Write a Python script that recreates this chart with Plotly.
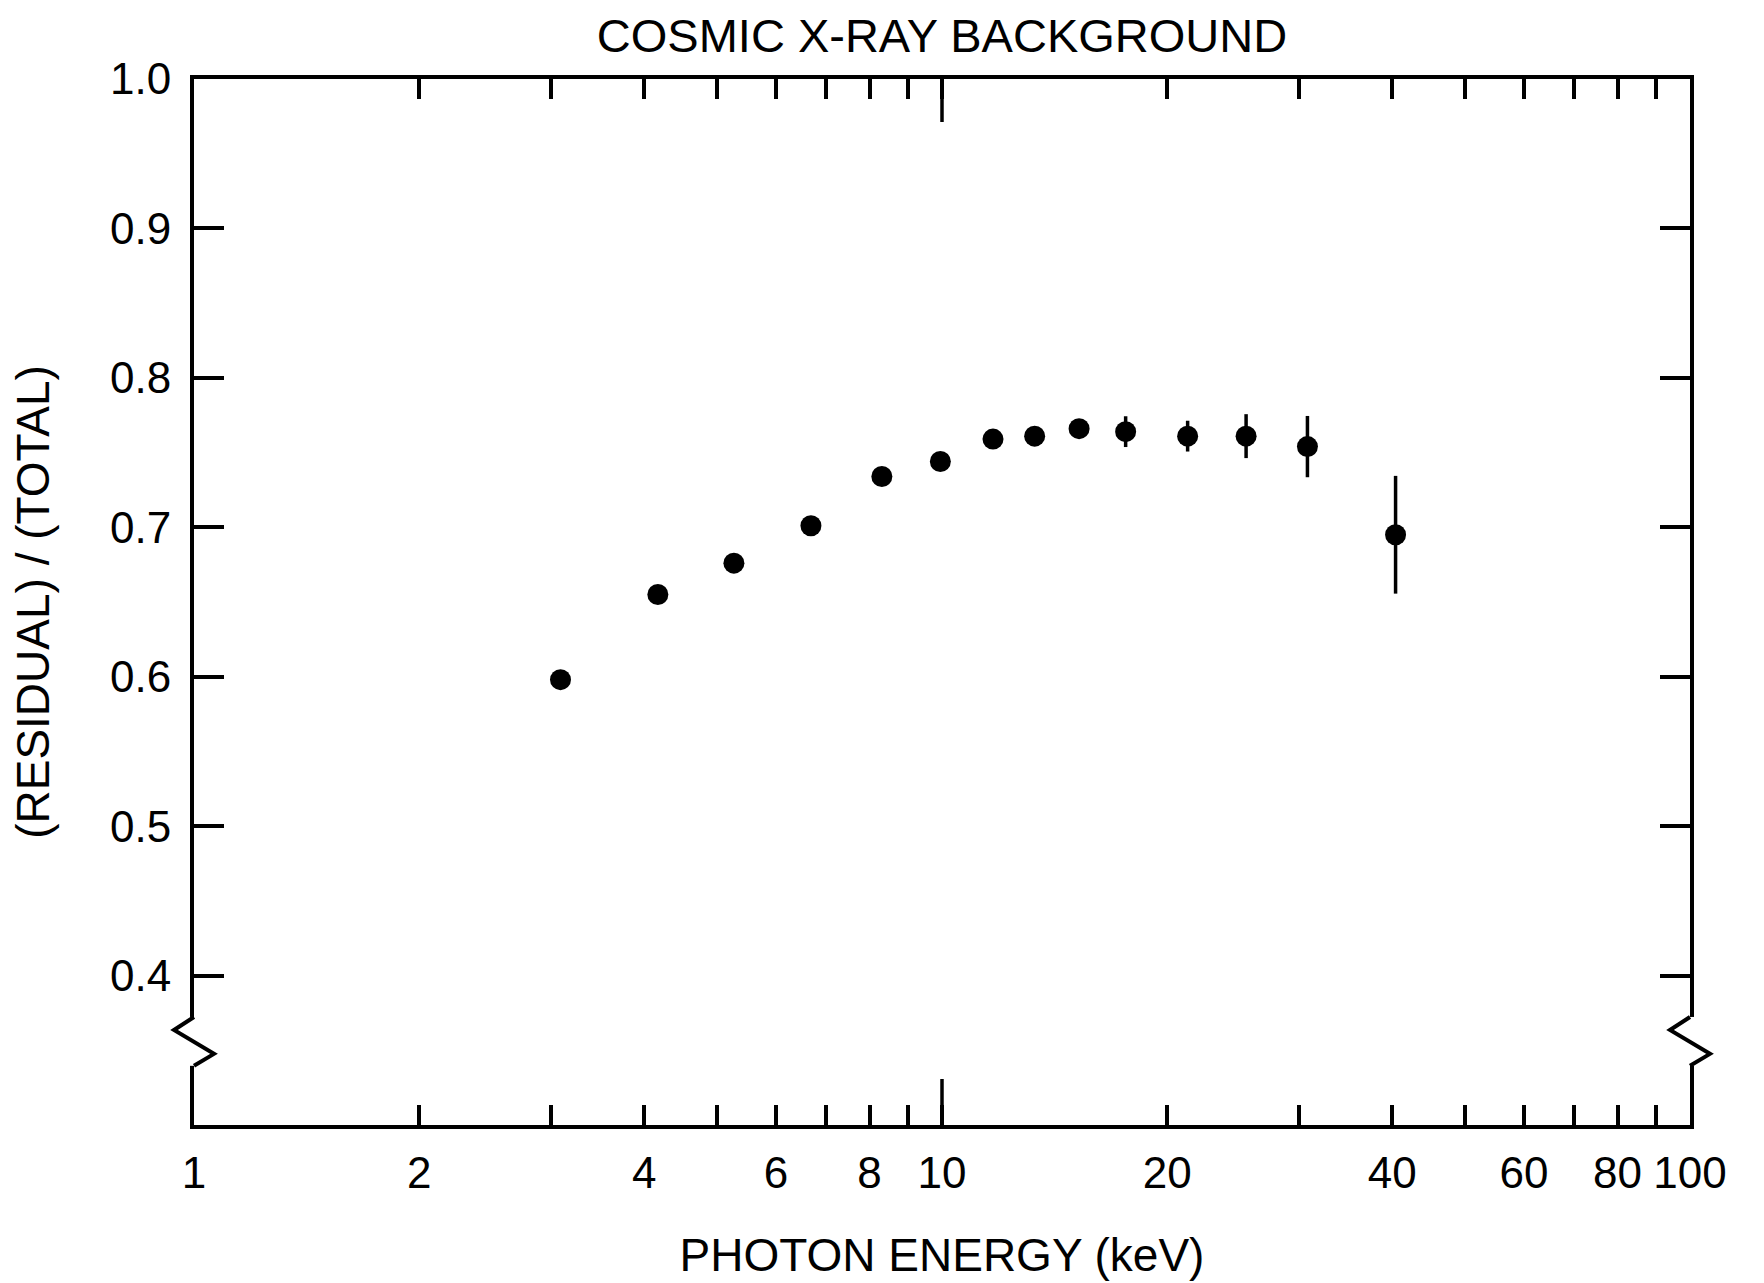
import plotly.graph_objects as go

# ---- data ----
energy_kev = [3.09, 4.17, 5.27, 6.68, 8.31, 9.95, 11.7, 13.3, 15.25, 17.6, 21.3, 25.5, 30.8, 40.4]
ratio = [0.598, 0.655, 0.676, 0.701, 0.734, 0.744, 0.759, 0.761, 0.766, 0.764, 0.761, 0.761, 0.754, 0.695]
ratio_err = [0, 0, 0, 0, 0, 0, 0, 0, 0, 0.0103, 0.0103, 0.0147, 0.0205, 0.0394]

x_tickvals = [1, 2, 3, 4, 5, 6, 7, 8, 9, 10, 20, 30, 40, 50, 60, 70, 80, 90, 100]
x_ticktext = ["1", "2", "", "4", "", "6", "", "8", "", "10", "20", "", "40", "", "60", "", "80", "", "100"]
y_tickvals = [0.4, 0.5, 0.6, 0.7, 0.8, 0.9, 1.0]
y_ticktext = ["0.4", "0.5", "0.6", "0.7", "0.8", "0.9", "1.0"]
y_range = [0.3, 1.0]
break_y = [0.3723, 0.3636, 0.3476, 0.3396]

FONT = "Liberation Sans, Arial, sans-serif"
W, H = 1764, 1283

fig = go.Figure()
fig.add_trace(go.Scatter(
    x=energy_kev, y=ratio, mode="markers",
    marker=dict(color="black", size=21, line=dict(width=0)),
    error_y=dict(type="data", array=ratio_err, visible=True, thickness=3.5, width=0, color="black"),
    showlegend=False,
))

shapes = []
# axis breaks on left and right spines
for anchor in (0, 1):
    shapes.append(dict(type="rect", layer="above", xref="x domain", xsizemode="pixel", xanchor=anchor,
                       x0=-5, x1=5, yref="y", y0=break_y[3], y1=break_y[0],
                       fillcolor="white", line=dict(width=0)))
    path = (f"M0,{break_y[0]} L-20,{break_y[1]} L20,{break_y[2]} L0,{break_y[3]}")
    shapes.append(dict(type="path", layer="above", xref="x domain", xsizemode="pixel", xanchor=anchor,
                       yref="y", path=path, line=dict(color="black", width=4)))
# longer tick at 10 keV, bottom and top
shapes.append(dict(type="line", layer="above", xref="x", x0=10, x1=10,
                   yref="y domain", ysizemode="pixel", yanchor=0, y0=0, y1=46,
                   line=dict(color="black", width=3.5)))
shapes.append(dict(type="line", layer="above", xref="x", x0=10, x1=10,
                   yref="y domain", ysizemode="pixel", yanchor=1, y0=0, y1=-43,
                   line=dict(color="black", width=3.5)))

fig.update_layout(
    width=W, height=H,
    margin=dict(l=194, r=74, t=79, b=158, autoexpand=False),
    paper_bgcolor="white", plot_bgcolor="white",
    font=dict(family=FONT, color="black", size=44),
    title=dict(text="COSMIC X-RAY BACKGROUND", x=0.5, xref="paper", xanchor="center",
               y=1 - 36 / H, yref="container", yanchor="middle",
               font=dict(family=FONT, size=47, color="black")),
    shapes=shapes,
)
fig.update_xaxes(
    type="log", range=[0, 2], automargin=False,
    tickvals=x_tickvals, ticktext=x_ticktext,
    ticks="inside", ticklen=20, tickwidth=3.5, tickcolor="black",
    showline=True, linewidth=4, linecolor="black", mirror="all",
    showgrid=False, zeroline=False,
    ticklabelstandoff=6,
    tickfont=dict(family=FONT, size=44, color="black"),
    title=dict(text="PHOTON ENERGY (keV)", standoff=44, font=dict(family=FONT, size=46, color="black")),
)
fig.update_yaxes(
    range=y_range, automargin=False,
    tickvals=y_tickvals, ticktext=y_ticktext,
    ticks="inside", ticklen=30, tickwidth=3.5, tickcolor="black",
    showline=True, linewidth=4, linecolor="black", mirror="all",
    showgrid=False, zeroline=False,
    ticklabelstandoff=10,
    tickfont=dict(family=FONT, size=44, color="black"),
    title=dict(text="(RESIDUAL) / (TOTAL)", standoff=47, font=dict(family=FONT, size=46, color="black")),
)

fig.write_html("out.html", config={"displayModeBar": False},
               post_script="document.body.style.margin='0';")
